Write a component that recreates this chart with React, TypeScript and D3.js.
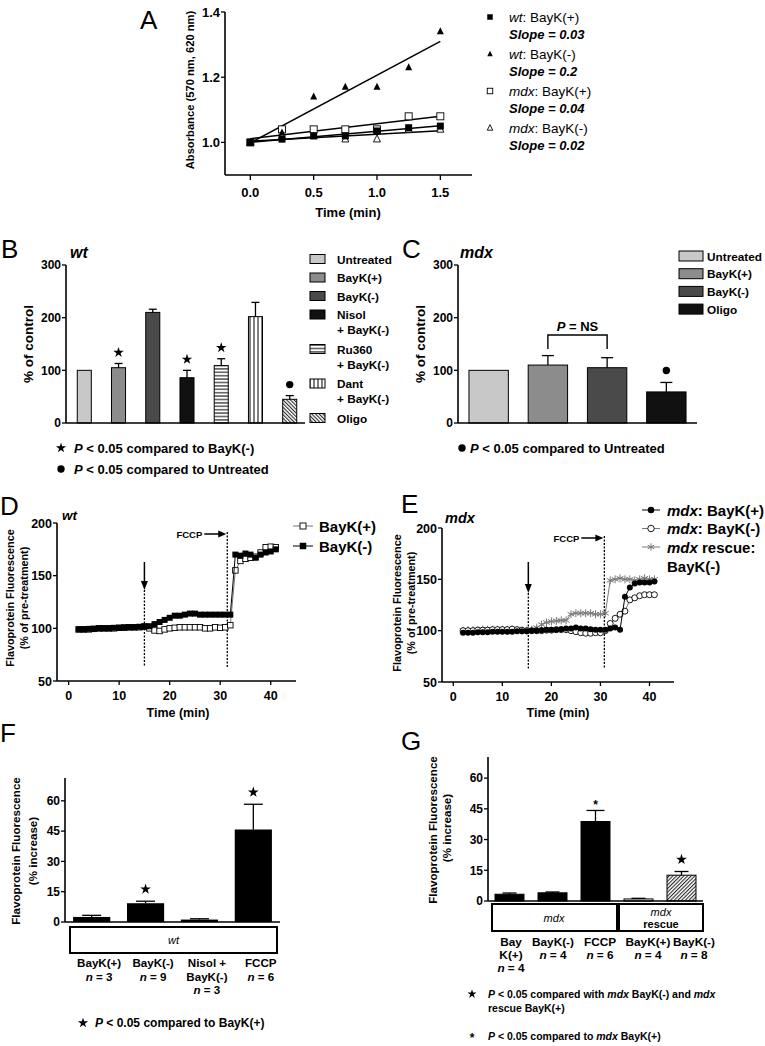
import React from 'react';
import * as d3 from 'd3';

const FONT = "'Liberation Sans', Arial, Helvetica, sans-serif";

// ===== Panel A: absorbance vs time =====
const absTime = [0, 0.25, 0.5, 0.75, 1.0, 1.25, 1.5];
const absWtBayKPlus = [1.0, 1.01, 1.02, 1.02, 1.035, 1.045, 1.05];
const absWtBayKMinus = [1.0, 1.03, 1.14, 1.17, 1.17, 1.23, 1.34];
const absMdxBayKPlus = [1.0, 1.04, 1.04, 1.04, 1.04, 1.08, 1.08];
const absMdxBayKMinus = [1.0, 1.02, 1.02, 1.01, 1.01, 1.04, 1.04];
const absGenotype = ['wt', 'wt', 'mdx', 'mdx'];
const absTreatment = ['BayK(+)', 'BayK(-)', 'BayK(+)', 'BayK(-)'];
const absSlopeText = ['0.03', '0.2', '0.04', '0.02'];
const absXTicks = [0, 0.5, 1.0, 1.5];
const absYTicks = [1.0, 1.2, 1.4];

// ===== Panel B =====
const bCategories = ['Untreated', 'BayK(+)', 'BayK(-)', 'Nisol + BayK(-)', 'Ru360 + BayK(-)', 'Dant + BayK(-)', 'Oligo'];
const bLegendLines = [['Untreated'], ['BayK(+)'], ['BayK(-)'], ['Nisol', '+ BayK(-)'], ['Ru360', '+ BayK(-)'], ['Dant', '+ BayK(-)'], ['Oligo']];
const bMeans = [100, 105, 210, 86, 109, 202, 45];
const bSEM = [0, 8, 6, 14, 13, 27, 7];
const bStarVsBayKMinus = [false, true, false, true, true, false, false];
const bDotVsUntreated = [false, false, false, false, false, false, true];
const bYTicks = [0, 100, 200, 300];

// ===== Panel C =====
const cCategories = ['Untreated', 'BayK(+)', 'BayK(-)', 'Oligo'];
const cMeans = [100, 110, 105, 59];
const cSEM = [0, 18, 19, 18];
const cDotVsUntreated = [false, false, false, true];
const cYTicks = [0, 100, 200, 300];

// ===== Panels D & E (time courses) =====
const tsTime = [2, 3, 4, 5, 6, 7, 8, 9, 10, 11, 12, 13, 14, 15, 16, 17, 18, 19, 20, 21, 22, 23, 24, 25, 26, 27, 28, 29, 30, 31, 32, 33, 34, 35, 36, 37, 38, 39, 40, 41];
const dBayKPlus = [99, 99, 99, 99.5, 100, 100, 100, 100, 100.5, 100.5, 101, 101, 101, 101.5, 100, 98, 97.5, 99, 100, 100.5, 101, 101, 101, 101, 101, 100, 100, 101, 100.5, 101, 103, 155, 164, 166, 167, 168, 172, 177, 177.5, 177];
const dBayKMinus = [99, 99, 99.5, 99.5, 100, 100, 100, 100.5, 100.5, 101, 101, 101, 101.5, 102, 102, 104, 106, 108, 110, 112, 112, 113, 114, 114, 113, 113, 113, 113, 113, 113, 113, 170, 169, 171, 170, 167, 170, 172, 173, 175];
const eMdxBayKPlus = [98, 98, 98, 98.5, 98.5, 98.5, 99, 99, 99, 99, 99, 99.5, 99.5, 99.5, 100, 100, 100.5, 101, 101, 101, 101.5, 102, 102, 103, 102, 102, 101.5, 101, 101, 101, 102, 103, 101, 133, 142, 146, 147, 147, 147, 148];
const eMdxBayKMinus = [100, 100, 100, 100.5, 100.5, 100.5, 101, 101, 101, 101, 101.5, 101, 100.5, 100, 100, 100, 100, 100.5, 100.5, 101, 101, 101, 100, 99, 98, 97.5, 97.5, 98, 98, 100, 107, 112, 116, 119, 130, 132, 134, 135, 135, 135];
const eRescueBayKMinus = [100, 100.5, 100.5, 100.5, 101, 101, 101, 101, 101, 101, 101, 100.5, 100, 100, 101, 103, 106, 108, 109, 109.5, 110, 110, 116, 117, 117, 117, 117, 116, 116, 117, 149, 150, 151, 150, 150, 149, 150, 151, 150, 150];
const tsXTicks = [0, 10, 20, 30, 40];
const tsYTicks = [50, 100, 150, 200];
const dTreatTime = 15;
const dFCCPTime = 31.4;
const eTreatTime = 15.3;
const eFCCPTime = 30.8;

// ===== Panel F =====
const fCategories = ['BayK(+)', 'BayK(-)', 'Nisol + BayK(-)', 'FCCP'];
const fLabelLines = [['BayK(+)'], ['BayK(-)'], ['Nisol +', 'BayK(-)'], ['FCCP']];
const fN = [3, 9, 3, 6];
const fMeans = [2.5, 9.3, 1.2, 45.8];
const fSEM = [0.8, 1.0, 0.4, 12.5];
const fStar = [false, true, false, true];
const fgYTicks = [0, 15, 30, 45, 60];

// ===== Panel G =====
const gCategories = ['mdx BayK(+)', 'mdx BayK(-)', 'mdx FCCP', 'rescue BayK(+)', 'rescue BayK(-)'];
const gLabelLines = [['Bay', 'K(+)'], ['BayK(-)'], ['FCCP'], ['BayK(+)'], ['BayK(-)']];
const gN = [4, 4, 6, 4, 8];
const gMeans = [3.3, 4.0, 38.8, 1.0, 12.6];
const gSEM = [0.6, 0.4, 5.4, 0.3, 1.8];
const gMark = ['', '', 'asterisk', '', 'star'];

// ---------- helpers ----------
function fit(xs: number[], ys: number[]) {
  const mx = d3.mean(xs) as number;
  const my = d3.mean(ys) as number;
  let sxy = 0, sxx = 0;
  xs.forEach((x, i) => { sxy += (x - mx) * (ys[i] - my); sxx += (x - mx) ** 2; });
  const b = sxy / sxx;
  return { a: my - b * mx, b };
}

function Marker({ kind, x, y, s }: { kind: string; x: number; y: number; s: number }) {
  if (kind === 'sqF') return <rect x={x - s / 2} y={y - s / 2} width={s} height={s} fill="#000" />;
  if (kind === 'sqO') return <rect x={x - s / 2} y={y - s / 2} width={s} height={s} fill="#fff" stroke="#000" strokeWidth={0.9} />;
  if (kind === 'triF' || kind === 'triO') {
    const d = `M${x},${y - s * 0.6}L${x + s / 2},${y + s * 0.4}L${x - s / 2},${y + s * 0.4}Z`;
    return kind === 'triF' ? <path d={d} fill="#000" /> : <path d={d} fill="#fff" stroke="#000" strokeWidth={0.9} />;
  }
  if (kind === 'circF') return <circle cx={x} cy={y} r={s / 2} fill="#000" />;
  if (kind === 'circO') return <circle cx={x} cy={y} r={s / 2} fill="#fff" stroke="#000" strokeWidth={0.9} />;
  if (kind === 'ast') return <path d={d3.symbol(d3.symbolAsterisk, s * s * 0.9)() as string} transform={`translate(${x},${y})`} fill="none" stroke="#777" strokeWidth={1} />;
  return null;
}

function Star({ x, y, size = 34 }: { x: number; y: number; size?: number }) {
  return <path d={d3.symbol(d3.symbolStar, size)() as string} transform={`translate(${x},${y})`} fill="#000" />;
}

function YAxis({ scale, x, ticks, fmt, fs = 12, tickLen = 4 }: any) {
  const [r0, r1] = scale.range();
  return (
    <g>
      <line x1={x} x2={x} y1={r0} y2={r1} stroke="#000" strokeWidth={1.6} />
      {ticks.map((t: number) => (
        <g key={t}>
          <line x1={x - tickLen} x2={x} y1={scale(t)} y2={scale(t)} stroke="#000" strokeWidth={1.3} />
          <text x={x - tickLen - 1} y={scale(t)} dy="0.36em" textAnchor="end" fontSize={fs} fontWeight="bold">{fmt(t)}</text>
        </g>
      ))}
    </g>
  );
}

function XAxis({ scale, y, ticks, fmt, fs = 12, tickLen = 4, labelOffset = 19 }: any) {
  const [r0, r1] = scale.range();
  return (
    <g>
      <line x1={r0} x2={r1} y1={y} y2={y} stroke="#000" strokeWidth={1.6} />
      {ticks.map((t: number) => (
        <g key={t}>
          <line x1={scale(t)} x2={scale(t)} y1={y} y2={y + tickLen} stroke="#000" strokeWidth={1.3} />
          <text x={scale(t)} y={y + labelOffset} textAnchor="middle" fontSize={fs} fontWeight="bold">{fmt(t)}</text>
        </g>
      ))}
    </g>
  );
}

function ErrBar({ x, y1, y2, cap }: { x: number; y1: number; y2: number; cap: number }) {
  if (Math.abs(y1 - y2) < 0.5) return null;
  return (
    <g stroke="#000" strokeWidth={1.3}>
      <line x1={x} x2={x} y1={y1} y2={y2} />
      <line x1={x - cap / 2} x2={x + cap / 2} y1={y2} y2={y2} />
    </g>
  );
}

function PanelLetter({ x, y, t }: { x: number; y: number; t: string }) {
  return <text x={x} y={y} fontSize={26} fontWeight="normal">{t}</text>;
}

function RotLabel({ x, y, t, fs = 11, bold = true }: any) {
  return <text transform={`translate(${x},${y}) rotate(-90)`} textAnchor="middle" dy="0.35em" fontSize={fs} fontWeight={bold ? 'bold' : 'normal'}>{t}</text>;
}

// ---------- Panel A ----------
function PanelA() {
  const x = d3.scaleLinear([-0.2, 1.75], [225, 472]);
  const y = d3.scaleLinear([0.9, 1.4], [175, 12]);
  const series = [absWtBayKPlus, absWtBayKMinus, absMdxBayKPlus, absMdxBayKMinus];
  const kinds = ['sqF', 'triF', 'sqO', 'triO'];
  const drawOrder = [3, 2, 0, 1];
  return (
    <g>
      <PanelLetter x={140} y={29} t="A" />
      <YAxis scale={y} x={225} ticks={absYTicks} fmt={d3.format('.1f')} fs={13} />
      <XAxis scale={x} y={175} ticks={absXTicks} fmt={d3.format('.1f')} fs={13} tickLen={5} labelOffset={22} />
      <text x={348} y={217} textAnchor="middle" fontSize={13} fontWeight="bold">Time (min)</text>
      <RotLabel x={190} y={90} t="Absorbance (570 nm, 620 nm)" fs={11.2} />
      {series.map((s, i) => {
        const f = fit(absTime, s);
        return <line key={'l' + i} x1={x(0)} x2={x(1.5)} y1={y(f.a)} y2={y(f.a + f.b * 1.5)} stroke="#000" strokeWidth={1.5} />;
      })}
      {drawOrder.map((i) => (
        <g key={'m' + i}>
          {absTime.map((t, j) => <Marker key={j} kind={kinds[i]} x={x(t)} y={y(series[i][j])} s={7} />)}
        </g>
      ))}
      {absGenotype.map((g, i) => {
        const y0 = 17 + i * 37;
        return (
          <g key={'lg' + i}>
            <Marker kind={kinds[i]} x={490} y={y0} s={5.5} />
            <text x={509} y={y0 + 5} fontSize={13.5}>
              <tspan fontStyle="italic">{g}</tspan>: {absTreatment[i]}
            </text>
            <text x={509} y={y0 + 22} fontSize={13} fontWeight="bold" fontStyle="italic">Slope = {absSlopeText[i]}</text>
          </g>
        );
      })}
    </g>
  );
}

// ---------- Panel B ----------
const bFills = ['#c8c8c8', '#8c8c8c', '#4a4a4a', '#111', 'url(#hStripes)', 'url(#vStripes)', 'url(#diagB)'];
function PanelB() {
  const y = d3.scaleLinear([0, 300], [423, 265]);
  const x = d3.scaleBand(bCategories, [67, 307]).paddingInner(0.59).paddingOuter(0.3);
  const bw = x.bandwidth();
  let ly = 259;
  const legendY: number[] = [];
  bLegendLines.forEach((l) => { legendY.push(ly); ly += l.length > 1 ? 34.5 : 18.5; });
  return (
    <g>
      <PanelLetter x={1} y={258} t="B" />
      <text x={70} y={258} fontSize={16} fontWeight="bold" fontStyle="italic">wt</text>
      {bCategories.map((c, i) => {
        const x0 = x(c) as number;
        const cx = x0 + bw / 2;
        const errTop = y(bMeans[i] + bSEM[i]);
        return (
          <g key={c}>
            <rect x={x0} y={y(bMeans[i])} width={bw} height={y(0) - y(bMeans[i])} fill={bFills[i]} stroke="#000" strokeWidth={1} />
            <ErrBar x={cx} y1={y(bMeans[i])} y2={errTop} cap={8} />
            {bStarVsBayKMinus[i] && <Star x={cx} y={errTop - 11} />}
            {bDotVsUntreated[i] && <circle cx={cx} cy={errTop - 11} r={3.7} fill="#000" />}
          </g>
        );
      })}
      <YAxis scale={y} x={66} ticks={bYTicks} fmt={d3.format('d')} fs={12} />
      <line x1={66} x2={305} y1={423} y2={423} stroke="#000" strokeWidth={1.6} />
      <RotLabel x={28} y={344} t="% of control" fs={13.5} />
      {bLegendLines.map((lines, i) => (
        <g key={'bl' + i}>
          <rect x={310} y={legendY[i] - 4.5} width={15} height={9} fill={bFills[i]} stroke="#000" strokeWidth={1} />
          {lines.map((t, k) => (
            <text key={k} x={337} y={legendY[i] + 4.5 + k * 15} fontSize={11.8} fontWeight="bold">{t}</text>
          ))}
        </g>
      ))}
      <Star x={61} y={448} size={32} />
      <text x={74} y={452.5} fontSize={13} fontWeight="bold"><tspan fontStyle="italic">P</tspan>{' < 0.05 compared to BayK(-)'}</text>
      <circle cx={61} cy={469} r={3.7} fill="#000" />
      <text x={74} y={473.5} fontSize={13} fontWeight="bold"><tspan fontStyle="italic">P</tspan>{' < 0.05 compared to Untreated'}</text>
    </g>
  );
}

// ---------- Panel C ----------
const cFills = ['#c8c8c8', '#8c8c8c', '#4a4a4a', '#111'];
function PanelC() {
  const y = d3.scaleLinear([0, 300], [423, 265]);
  const x = d3.scaleBand(cCategories, [458, 697]).paddingInner(0.335).paddingOuter(0.185);
  const bw = x.bandwidth();
  const c1 = (x('BayK(+)') as number) + bw / 2;
  const c2 = (x('BayK(-)') as number) + bw / 2;
  return (
    <g>
      <PanelLetter x={402} y={258} t="C" />
      <text x={460} y={258} fontSize={16} fontWeight="bold" fontStyle="italic">mdx</text>
      {cCategories.map((c, i) => {
        const x0 = x(c) as number;
        const cx = x0 + bw / 2;
        const errTop = y(cMeans[i] + cSEM[i]);
        return (
          <g key={c}>
            <rect x={x0} y={y(cMeans[i])} width={bw} height={y(0) - y(cMeans[i])} fill={cFills[i]} stroke="#000" strokeWidth={1} />
            <ErrBar x={cx} y1={y(cMeans[i])} y2={errTop} cap={12} />
            {cDotVsUntreated[i] && <circle cx={cx} cy={errTop - 12} r={3.7} fill="#000" />}
          </g>
        );
      })}
      <YAxis scale={y} x={458} ticks={cYTicks} fmt={d3.format('d')} fs={12} />
      <line x1={458} x2={697} y1={423} y2={423} stroke="#000" strokeWidth={1.6} />
      <RotLabel x={420} y={344} t="% of control" fs={13.5} />
      <path d={`M${c1},349V335H${c2}V349`} fill="none" stroke="#000" strokeWidth={1.4} />
      <text x={(c1 + c2) / 2} y={331} textAnchor="middle" fontSize={13} fontWeight="bold"><tspan fontStyle="italic">P</tspan> = NS</text>
      {cCategories.map((c, i) => (
        <g key={'cl' + i}>
          <rect x={679} y={256 + i * 17.7 - 5} width={24} height={10} fill={cFills[i]} stroke="#000" strokeWidth={1} />
          <text x={707} y={256 + i * 17.7 + 4.5} fontSize={11.8} fontWeight="bold">{c}</text>
        </g>
      ))}
      <circle cx={462} cy={448} r={3.7} fill="#000" />
      <text x={470} y={452.5} fontSize={13} fontWeight="bold"><tspan fontStyle="italic">P</tspan>{' < 0.05 compared to Untreated'}</text>
    </g>
  );
}

// ---------- Time-course panels ----------
function Series({ x, y, vals, kind, lineColor, s }: any) {
  const line = d3.line<number>().x((_, i) => x(tsTime[i])).y((v) => y(v));
  return (
    <g>
      <path d={line(vals) as string} fill="none" stroke={lineColor} strokeWidth={1} />
      {vals.map((v: number, i: number) => <Marker key={i} kind={kind} x={x(tsTime[i])} y={y(v)} s={s} />)}
    </g>
  );
}

function Events({ x, treat, fccp, arrowTop, arrowBottom, fccpTop, bottom, fccpY }: any) {
  const xt = x(treat);
  const xf = x(fccp);
  return (
    <g>
      <line x1={xt} x2={xt} y1={arrowTop} y2={arrowBottom - 6} stroke="#000" strokeWidth={1.5} />
      <path d={`M${xt - 3.5},${arrowBottom - 9}L${xt + 3.5},${arrowBottom - 9}L${xt},${arrowBottom}Z`} fill="#000" />
      <line x1={xt} x2={xt} y1={arrowBottom} y2={bottom} stroke="#000" strokeWidth={1.3} strokeDasharray="2,1.5" />
      <line x1={xf} x2={xf} y1={fccpTop} y2={bottom} stroke="#000" strokeWidth={1.3} strokeDasharray="2,1.5" />
      <text x={xf - 25} y={fccpY + 3.5} textAnchor="end" fontSize={9.5} fontWeight="bold">FCCP</text>
      <line x1={xf - 23} x2={xf - 8} y1={fccpY} y2={fccpY} stroke="#000" strokeWidth={1.5} />
      <path d={`M${xf - 9},${fccpY - 3.5}L${xf - 9},${fccpY + 3.5}L${xf - 1},${fccpY}Z`} fill="#000" />
    </g>
  );
}

function PanelD() {
  const x = d3.scaleLinear([-2.3, 45], [57, 296]);
  const y = d3.scaleLinear([50, 200], [681, 523]);
  return (
    <g>
      <PanelLetter x={0} y={515} t="D" />
      <text x={62} y={520} fontSize={13.5} fontWeight="bold" fontStyle="italic">wt</text>
      <Events x={x} treat={dTreatTime} fccp={dFCCPTime} arrowTop={562} arrowBottom={590} fccpTop={532} bottom={667} fccpY={534} />
      <Series x={x} y={y} vals={dBayKPlus} kind="sqO" lineColor="#777" s={5.5} />
      <Series x={x} y={y} vals={dBayKMinus} kind="sqF" lineColor="#000" s={6} />
      <YAxis scale={y} x={57} ticks={tsYTicks} fmt={d3.format('d')} fs={12.5} />
      <XAxis scale={x} y={681} ticks={tsXTicks} fmt={d3.format('d')} fs={12.5} tickLen={4} labelOffset={19} />
      <text x={178} y={717} textAnchor="middle" fontSize={12.5} fontWeight="bold">Time (min)</text>
      <RotLabel x={10} y={598} t="Flavoprotein Fluorescence" fs={10.8} />
      <RotLabel x={24} y={598} t="(% of pre-treatment)" fs={10.8} />
      {[0, 1].map((i) => (
        <g key={'dl' + i}>
          <line x1={293} x2={313} y1={526 + i * 20} y2={526 + i * 20} stroke={i === 0 ? '#777' : '#000'} strokeWidth={1} />
          <Marker kind={i === 0 ? 'sqO' : 'sqF'} x={303} y={526 + i * 20} s={i === 0 ? 6 : 6.5} />
          <text x={319} y={526 + i * 20 + 5.5} fontSize={15} fontWeight="bold">{i === 0 ? 'BayK(+)' : 'BayK(-)'}</text>
        </g>
      ))}
    </g>
  );
}

function PanelE() {
  const x = d3.scaleLinear([-2.3, 45], [442, 674]);
  const y = d3.scaleLinear([50, 200], [682, 528]);
  const rows = [
    { kind: 'circF', line: '#000', parts: [['mdx', true], [': BayK(+)', false]] },
    { kind: 'circO', line: '#777', parts: [['mdx', true], [': BayK(-)', false]] },
    { kind: 'ast', line: '#777', parts: [['mdx', true], [' rescue:', false]] },
  ];
  return (
    <g>
      <PanelLetter x={401} y={513} t="E" />
      <text x={445} y={523} fontSize={14.5} fontWeight="bold" fontStyle="italic">mdx</text>
      <Events x={x} treat={eTreatTime} fccp={eFCCPTime} arrowTop={562} arrowBottom={593} fccpTop={536} bottom={669} fccpY={538} />
      <Series x={x} y={y} vals={eRescueBayKMinus} kind="ast" lineColor="#777" s={7} />
      <Series x={x} y={y} vals={eMdxBayKMinus} kind="circO" lineColor="#777" s={6} />
      <Series x={x} y={y} vals={eMdxBayKPlus} kind="circF" lineColor="#000" s={6} />
      <YAxis scale={y} x={442} ticks={tsYTicks} fmt={d3.format('d')} fs={12.5} />
      <XAxis scale={x} y={682} ticks={tsXTicks} fmt={d3.format('d')} fs={12.5} tickLen={4} labelOffset={19} />
      <text x={558} y={717} textAnchor="middle" fontSize={12.5} fontWeight="bold">Time (min)</text>
      <RotLabel x={397} y={603} t="Flavoprotein Fluorescence" fs={10.8} />
      <RotLabel x={411} y={603} t="(% of pre-treatment)" fs={10.8} />
      {rows.map((r, i) => (
        <g key={'el' + i}>
          <line x1={642} x2={660} y1={510 + i * 18.5} y2={510 + i * 18.5} stroke={r.line} strokeWidth={1} />
          <Marker kind={r.kind} x={651} y={510 + i * 18.5} s={6.5} />
          <text x={667} y={510 + i * 18.5 + 5.5} fontSize={15} fontWeight="bold">
            {r.parts.map((p, k) => <tspan key={k} fontStyle={p[1] ? 'italic' : 'normal'}>{p[0] as string}</tspan>)}
          </text>
        </g>
      ))}
      <text x={667} y={566 + 5.5} fontSize={15} fontWeight="bold">BayK(-)</text>
    </g>
  );
}

// ---------- Panel F ----------
function PanelF() {
  const y = d3.scaleLinear([0, 71.3], [922, 778]);
  const x = d3.scaleBand(fCategories, [65, 280]).paddingInner(0.31).paddingOuter(0.15);
  const bw = x.bandwidth();
  return (
    <g>
      <PanelLetter x={0} y={742} t="F" />
      {fCategories.map((c, i) => {
        const x0 = x(c) as number;
        const cx = x0 + bw / 2;
        const errTop = y(fMeans[i] + fSEM[i]);
        return (
          <g key={c}>
            <rect x={x0} y={y(fMeans[i])} width={bw} height={y(0) - y(fMeans[i])} fill="#000" />
            <ErrBar x={cx} y1={y(fMeans[i])} y2={errTop} cap={19} />
            {fStar[i] && <Star x={cx} y={errTop - 12} size={36} />}
            {fLabelLines[i].map((t, k) => (
              <text key={k} x={cx + 7.5} y={967 + k * 13.5} textAnchor="middle" fontSize={11.6} fontWeight="bold">{t}</text>
            ))}
            <text x={cx + 7.5} y={967 + fLabelLines[i].length * 13.5} textAnchor="middle" fontSize={11.6} fontWeight="bold">
              <tspan fontStyle="italic">n</tspan> = {fN[i]}
            </text>
          </g>
        );
      })}
      <YAxis scale={y} x={65} ticks={fgYTicks} fmt={d3.format('d')} fs={12} />
      <line x1={65} x2={280} y1={922} y2={922} stroke="#000" strokeWidth={1.6} />
      <rect x={70} y={927} width={207} height={26} fill="#fff" stroke="#000" strokeWidth={2} />
      <text x={173.5} y={944} textAnchor="middle" fontSize={11} fontStyle="italic">wt</text>
      <RotLabel x={16} y={851} t="Flavoprotein Fluorescence" fs={11.6} />
      <RotLabel x={33} y={851} t="(% increase)" fs={11.6} />
      <Star x={83} y={1023} size={32} />
      <text x={95} y={1027} fontSize={12} fontWeight="bold"><tspan fontStyle="italic">P</tspan>{' < 0.05 compared to BayK(+)'}</text>
    </g>
  );
}

// ---------- Panel G ----------
const gFills = ['#000', '#000', '#000', 'url(#dotG)', 'url(#diagG)'];
const gLabelShift = [1.5, 0.5, 4.5, 9.5, 12.5];
function PanelG() {
  const y = d3.scaleLinear([0, 70.3], [901, 757]);
  const x = d3.scaleBand(gCategories, [488, 703]).paddingInner(0.326).paddingOuter(0.163);
  const bw = x.bandwidth();
  return (
    <g>
      <PanelLetter x={401} y={750} t="G" />
      {gCategories.map((c, i) => {
        const x0 = x(c) as number;
        const cx = x0 + bw / 2;
        const errTop = y(gMeans[i] + gSEM[i]);
        const lx = cx + gLabelShift[i];
        return (
          <g key={c}>
            <rect x={x0} y={y(gMeans[i])} width={bw} height={y(0) - y(gMeans[i])} fill={gFills[i]} stroke="#000" strokeWidth={1} />
            <ErrBar x={cx} y1={y(gMeans[i])} y2={errTop} cap={i === 2 ? 18 : 14} />
            {gMark[i] === 'star' && <Star x={cx} y={errTop - 12} size={36} />}
            {gMark[i] === 'asterisk' && <text x={cx} y={errTop - 1} textAnchor="middle" fontSize={12} fontWeight="bold">*</text>}
            {gLabelLines[i].map((t, k) => (
              <text key={k} x={lx} y={946 + k * 13} textAnchor="middle" fontSize={11.8} fontWeight="bold">{t}</text>
            ))}
            <text x={lx} y={946 + gLabelLines[i].length * 13} textAnchor="middle" fontSize={11.8} fontWeight="bold">
              <tspan fontStyle="italic">n</tspan> = {gN[i]}
            </text>
          </g>
        );
      })}
      <YAxis scale={y} x={488} ticks={fgYTicks} fmt={d3.format('d')} fs={12} />
      <line x1={488} x2={703} y1={901} y2={901} stroke="#000" strokeWidth={1.6} />
      <rect x={492} y={904} width={125} height={27} fill="#fff" stroke="#000" strokeWidth={2} />
      <text x={554} y={922} textAnchor="middle" fontSize={11} fontStyle="italic">mdx</text>
      <rect x={619} y={904} width={84} height={27} fill="#fff" stroke="#000" strokeWidth={2} />
      <text x={661} y={916} textAnchor="middle" fontSize={11} fontStyle="italic">mdx</text>
      <text x={661} y={928} textAnchor="middle" fontSize={11} fontWeight="bold">rescue</text>
      <RotLabel x={433} y={830} t="Flavoprotein Fluorescence" fs={11.6} />
      <RotLabel x={447} y={828} t="(% increase)" fs={11.6} />
      <Star x={472} y={994} size={26} />
      <text x={488} y={998} fontSize={10.5} fontWeight="bold">
        <tspan fontStyle="italic">P</tspan>{' < 0.05 compared with '}<tspan fontStyle="italic">mdx</tspan>{' BayK(-) and '}<tspan fontStyle="italic">mdx</tspan>
      </text>
      <text x={488} y={1012} fontSize={10.5} fontWeight="bold">rescue BayK(+)</text>
      <text x={472} y={1042} textAnchor="middle" fontSize={12} fontWeight="bold">*</text>
      <text x={488} y={1040} fontSize={10.5} fontWeight="bold">
        <tspan fontStyle="italic">P</tspan>{' < 0.05 compared to '}<tspan fontStyle="italic">mdx</tspan>{' BayK(+)'}
      </text>
    </g>
  );
}

function Defs() {
  return (
    <defs>
      <pattern id="hStripes" width={4} height={3.4} patternUnits="userSpaceOnUse">
        <rect width={4} height={3.4} fill="#fff" />
        <line x1={0} x2={4} y1={1.7} y2={1.7} stroke="#000" strokeWidth={1} />
      </pattern>
      <pattern id="vStripes" width={4} height={4} patternUnits="userSpaceOnUse">
        <rect width={4} height={4} fill="#fff" />
        <line x1={2} x2={2} y1={0} y2={4} stroke="#000" strokeWidth={1} />
      </pattern>
      <pattern id="diagB" width={2.6} height={2.6} patternUnits="userSpaceOnUse" patternTransform="rotate(-45)">
        <rect width={2.6} height={2.6} fill="#fff" />
        <line x1={0.6} x2={0.6} y1={0} y2={2.6} stroke="#000" strokeWidth={0.9} />
      </pattern>
      <pattern id="diagG" width={2.6} height={2.6} patternUnits="userSpaceOnUse" patternTransform="rotate(45)">
        <rect width={2.6} height={2.6} fill="#fff" />
        <line x1={0.6} x2={0.6} y1={0} y2={2.6} stroke="#000" strokeWidth={0.9} />
      </pattern>
      <pattern id="dotG" width={2.5} height={2.5} patternUnits="userSpaceOnUse">
        <rect width={2.5} height={2.5} fill="#fff" />
        <rect x={0.5} y={0.5} width={1} height={1} fill="#555" />
      </pattern>
    </defs>
  );
}

export default function App() {
  return (
    <svg width={765} height={1046} viewBox="0 0 765 1046" fontFamily={FONT} style={{ position: 'absolute', left: 0, top: 0, background: '#fff' }}>
      <rect width={765} height={1046} fill="#fff" />
      <Defs />
      <PanelA />
      <PanelB />
      <PanelC />
      <PanelD />
      <PanelE />
      <PanelF />
      <PanelG />
    </svg>
  );
}
